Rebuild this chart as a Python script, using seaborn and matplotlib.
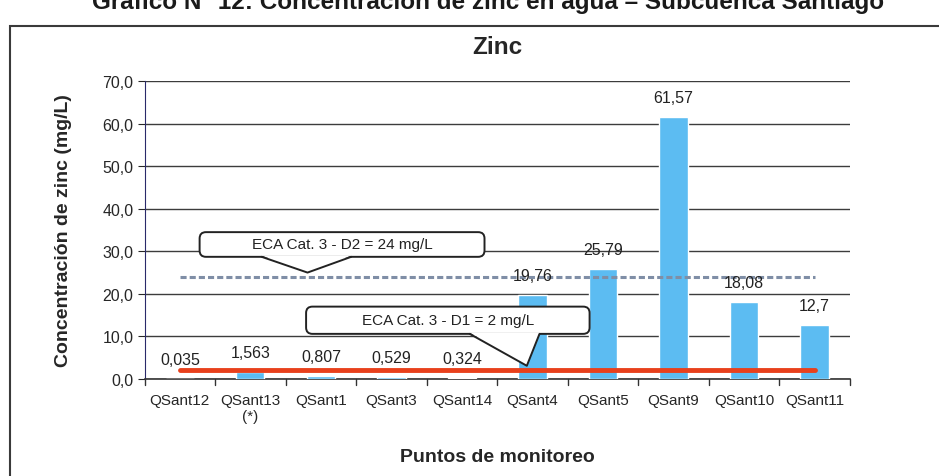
import matplotlib
matplotlib.use("Agg")
import matplotlib.pyplot as plt
import seaborn as sns
import pandas as pd
from matplotlib.patches import FancyBboxPatch, Polygon, Rectangle
from matplotlib.lines import Line2D

# Data
puntos = ["QSant12", "QSant13\n(*)", "QSant1", "QSant3", "QSant14",
          "QSant4", "QSant5", "QSant9", "QSant10", "QSant11"]
zinc = [0.035, 1.563, 0.807, 0.529, 0.324, 19.76, 25.79, 61.57, 18.08, 12.7]
etiquetas = ["0,035", "1,563", "0,807", "0,529", "0,324",
             "19,76", "25,79", "61,57", "18,08", "12,7"]
eca_d1 = 2
eca_d2 = 24
yticks = [0, 10, 20, 30, 40, 50, 60, 70]

df = pd.DataFrame({"Punto": puntos, "Zinc": zinc})

sns.set_style("white")
plt.rcParams["font.family"] = ["Liberation Sans", "DejaVu Sans"]

fig = plt.figure(figsize=(9.39, 4.77), dpi=100)
ax = fig.add_axes([0.154, 0.2034, 0.751, 0.6246])

# outer frame of the scanned figure
fig.patches.append(Rectangle((10 / 939, -0.1), 1.1, 1 - 27 / 477 + 0.1,
                             transform=fig.transFigure, fill=False,
                             edgecolor="#3a3a3a", lw=1.5, clip_on=False))

fig.text(0.52, 0.995, "Gráfico N° 12: Concentración de zinc en agua – Subcuenca Santiago",
         ha="center", va="center", fontsize=17.5, fontweight="bold", color="#1a1a1a")

sns.barplot(data=df, x="Punto", y="Zinc", color="#5cbcf2", width=0.4,
            saturation=1, ax=ax, zorder=3)

# reference lines
ax.plot([0, len(puntos) - 1], [eca_d2, eca_d2], color="#7f8ea6", lw=2.2,
        ls=(0, (2, 1)), zorder=4)
ax.plot([0, len(puntos) - 1], [eca_d1, eca_d1], color="#e8401c", lw=3.5, zorder=5)

# value labels
for i, (v, t) in enumerate(zip(zinc, etiquetas)):
    ax.annotate(t, (i, v), xytext=(0, 14), textcoords="offset points",
                ha="center", va="center", fontsize=11.5, color="#222222", zorder=6)

ax.set_ylim(0, 70)
ax.set_xlim(-0.5, len(puntos) - 0.5)
ax.set_yticks(yticks)
ax.set_yticklabels([f"{v:.1f}".replace(".", ",") for v in yticks], fontsize=11.5)
ax.tick_params(axis="x", labelsize=11, length=0, pad=10)
ax.tick_params(axis="y", length=5, direction="out", left=True, pad=3)
ax.yaxis.grid(True, color="#3c3c3c", lw=1)
ax.set_axisbelow(True)

# ticks between categories on the x axis
for k in range(len(puntos) + 1):
    ax.plot([k - 0.5, k - 0.5], [0, -1.3], color="#333333", lw=1, clip_on=False)

for s in ["top", "right"]:
    ax.spines[s].set_visible(False)
ax.spines["left"].set_color("#2a2a6a")
ax.spines["bottom"].set_color("#333333")
ax.spines["bottom"].set_linewidth(1.2)

ax.set_title("Zinc", fontsize=17.5, fontweight="bold", pad=20)
ax.set_ylabel("Concentración de zinc (mg/L)", fontsize=14, fontweight="bold", labelpad=22)
ax.set_xlabel("Puntos de monitoreo", fontsize=14, fontweight="bold", labelpad=18)


def callout(text, x0, x1, y0, y1, b0, b1, tip):
    box = FancyBboxPatch((x0, y0), x1 - x0, y1 - y0,
                         boxstyle="round,pad=0,rounding_size=0.09",
                         mutation_aspect=16.5,
                         facecolor="white", edgecolor="#222222", lw=1.4, zorder=7)
    ax.add_patch(box)
    ax.add_patch(Polygon([(b0, y0 + 0.3), tip, (b1, y0 + 0.3)], closed=True,
                         facecolor="white", edgecolor="none", zorder=8))
    ax.add_line(Line2D([b0, tip[0], b1], [y0, tip[1], y0], color="#222222",
                       lw=1.4, zorder=9))
    ax.text((x0 + x1) / 2, (y0 + y1) / 2, text, ha="center", va="center",
            fontsize=11, color="#222222", zorder=10)


callout("ECA Cat. 3 - D2 = 24 mg/L", 0.28, 4.32, 28.7, 34.5, 1.16, 2.43, (1.81, 25.0))
callout("ECA Cat. 3 - D1 = 2 mg/L", 1.79, 5.81, 10.6, 17.0, 4.11, 5.10, (4.92, 3.1))

fig.savefig("out.png", dpi=100)
